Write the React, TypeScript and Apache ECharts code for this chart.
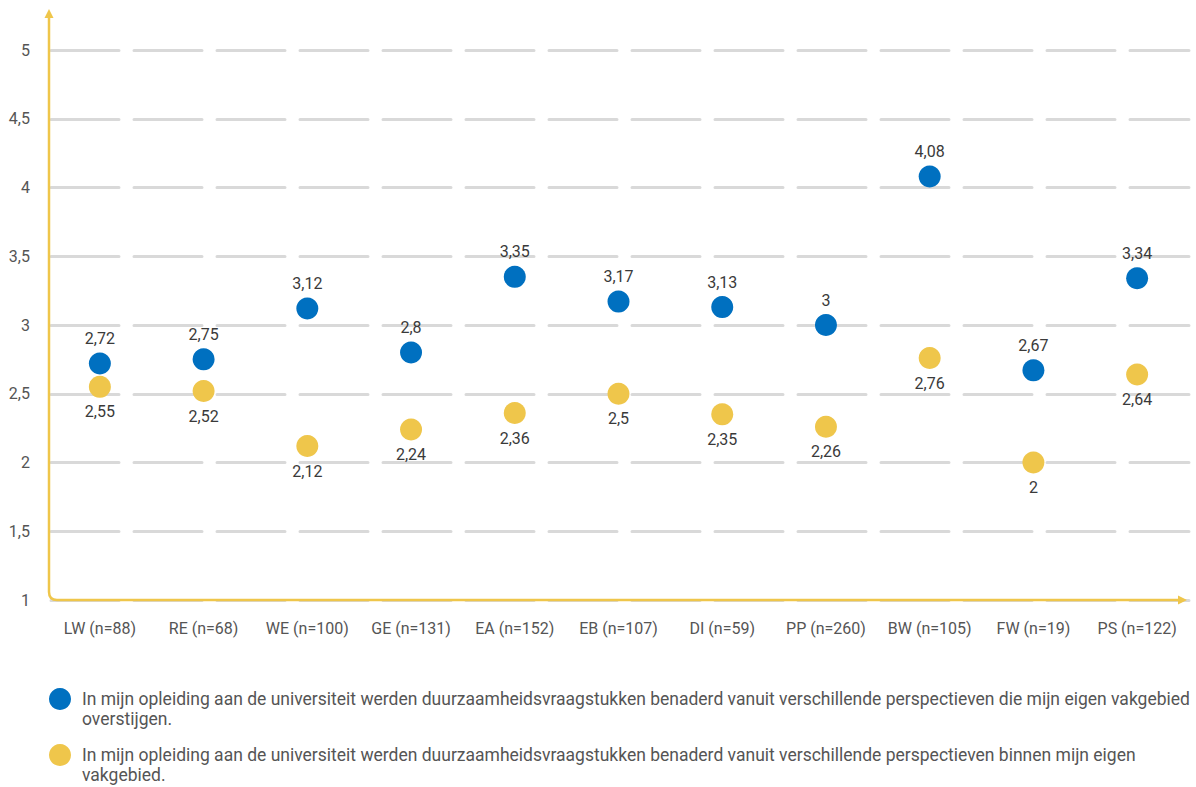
import React, { useEffect, useRef } from "react";
import * as echarts from "echarts";

const categories = [
  "LW (n=88)", "RE (n=68)", "WE (n=100)", "GE (n=131)", "EA (n=152)", "EB (n=107)",
  "DI (n=59)", "PP (n=260)", "BW (n=105)", "FW (n=19)", "PS (n=122)",
];
const blueValues = [2.72, 2.75, 3.12, 2.8, 3.35, 3.17, 3.13, 3, 4.08, 2.67, 3.34];
const yellowValues = [2.55, 2.52, 2.12, 2.24, 2.36, 2.5, 2.35, 2.26, 2.76, 2, 2.64];
const blueName =
  "In mijn opleiding aan de universiteit werden duurzaamheidsvraagstukken benaderd vanuit verschillende perspectieven die mijn eigen vakgebied overstijgen.";
const yellowName =
  "In mijn opleiding aan de universiteit werden duurzaamheidsvraagstukken benaderd vanuit verschillende perspectieven binnen mijn eigen vakgebied.";

const BLUE = "#0070C0";
const YELLOW = "#EFC64B";
const FONT = "Roboto, 'Noto Sans', sans-serif";
const fmt = (v: number) => String(v).replace(".", ",");
// wrap a legend text before its last word
const wrapLast = (s: string) => {
  const i = s.lastIndexOf(" ");
  return s.slice(0, i) + "\n" + s.slice(i + 1);
};

echarts.graphic.registerShape(
  "axisFrame",
  echarts.graphic.extendPath("M49,16 L49,592 Q49,600 57,600 L1180,600", {})
);

export default function App() {
  const ref = useRef<HTMLDivElement>(null);
  useEffect(() => {
    if (!ref.current) return;
    const chart = echarts.init(ref.current, null, { renderer: "svg" });
    chart.setOption({
      animation: false,
      textStyle: { fontFamily: FONT },
      grid: { left: 48, right: 7, top: 50, bottom: 187, containLabel: false },
      xAxis: {
        type: "category",
        data: categories,
        axisLine: { show: false },
        axisTick: { show: false },
        axisLabel: { color: "#555", fontSize: 16, margin: 20, interval: 0, fontFamily: FONT },
        splitLine: { show: false },
      },
      yAxis: {
        type: "value",
        min: 1,
        max: 5,
        interval: 0.5,
        axisLine: { show: false },
        axisTick: { show: false },
        axisLabel: {
          color: "#555",
          fontSize: 16,
          margin: 18,
          fontFamily: FONT,
          formatter: (v: number) => fmt(v),
        },
        splitLine: {
          show: true,
          lineStyle: { color: "#D9D9D9", width: 3, type: [68, 15], dashOffset: -3.5, cap: "round" },
        },
      },
      series: [
        {
          name: blueName,
          type: "scatter",
          data: blueValues,
          symbolSize: 22,
          itemStyle: { color: BLUE, opacity: 1 },
          label: {
            show: true,
            position: "top",
            distance: 6,
            color: "#3a3a3a",
            fontSize: 16,
            fontFamily: FONT,
            formatter: (p: any) => fmt(p.value),
          },
          z: 3,
        },
        {
          name: yellowName,
          type: "scatter",
          data: yellowValues,
          symbolSize: 22,
          itemStyle: { color: YELLOW, opacity: 1 },
          label: {
            show: true,
            position: "bottom",
            distance: 6,
            color: "#3a3a3a",
            fontSize: 16,
            fontFamily: FONT,
            formatter: (p: any) => fmt(p.value),
          },
          z: 4,
        },
      ],
      graphic: [
        {
          type: "axisFrame",
          z: 10,
          silent: true,
          style: { stroke: YELLOW, fill: "none", lineWidth: 2.5 },
        },
        {
          type: "polygon",
          z: 10,
          silent: true,
          shape: { points: [[49, 9], [44.5, 18], [53.5, 18]] },
          style: { fill: YELLOW },
        },
        {
          type: "polygon",
          z: 10,
          silent: true,
          shape: { points: [[1187, 600], [1178, 595.5], [1178, 604.5]] },
          style: { fill: YELLOW },
        },
        { type: "circle", shape: { cx: 60, cy: 699, r: 11 }, style: { fill: BLUE } },
        {
          type: "text",
          x: 82,
          y: 689,
          style: {
            text: wrapLast(blueName),
            lineHeight: 20,
            fill: "#555",
            font: `17.5px ${FONT}`,
          },
        },
        { type: "circle", shape: { cx: 60, cy: 755, r: 11 }, style: { fill: YELLOW } },
        {
          type: "text",
          x: 82,
          y: 745,
          style: {
            text: wrapLast(yellowName),
            lineHeight: 20,
            fill: "#555",
            font: `17.5px ${FONT}`,
          },
        },
      ],
    });
    return () => chart.dispose();
  }, []);
  return <div ref={ref} style={{ width: 1196, height: 787, position: "absolute", left: 0, top: 0 }} />;
}
